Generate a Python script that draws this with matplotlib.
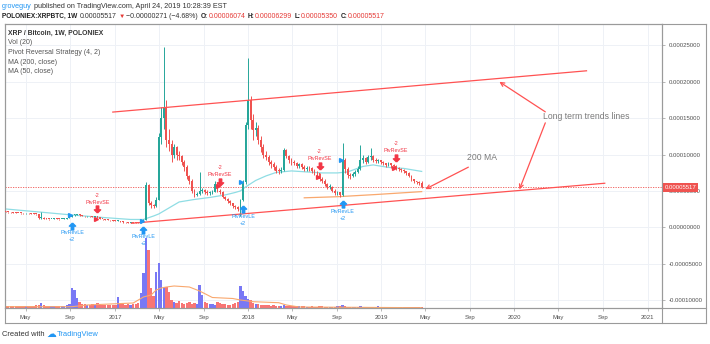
import numpy as np
import pandas as pd
import matplotlib
matplotlib.use('Agg')
import matplotlib.pyplot as plt
import matplotlib.dates as mdates
from matplotlib.path import Path
from matplotlib.transforms import offset_copy, blended_transform_factory
from matplotlib.lines import Line2D
from matplotlib.ticker import FuncFormatter

plt.rcParams['font.family'] = ['Liberation Sans', 'DejaVu Sans']

W, H = 710, 344

# weekly XRP/BTC bars, prices in satoshi (1e-8 BTC)
first_week = '2016-03-07'
first_open_sat = 2150
close_sat = [
    2100, 2080, 2050, 2000, 1980, 1950, 1930, 1900, 1950, 1900,
    1880, 1850, 1800, 1250, 1300, 1200, 1150, 1100, 1150, 1200,
    1150, 1100, 1150, 1200, 1250, 1400, 1650, 1700, 1750, 1650,
    1550, 1500, 1550, 1500, 1450, 1500, 1350, 1150, 1100, 1050,
    1000, 950, 900, 850, 880, 750, 700, 680, 650, 700,
    650, 620, 600, 800, 1000, 5800, 3300, 3000, 2900, 3800,
    12400, 15000, 16400, 12000, 11500, 10000, 11000, 10000, 9800, 9000,
    8300, 7000, 6400, 5000, 4500, 4600, 5000, 5100, 4900, 4700,
    4800, 4900, 6000, 5000, 4900, 4200, 3900, 3600, 3300, 2900,
    2800, 2500, 3700, 6200, 14000, 17500, 14800, 13400, 13600, 12000,
    11000, 10000, 9700, 9000, 8700, 8300, 7800, 7700, 7900, 10600,
    9800, 9200, 9000, 8800, 8400, 8700, 8300, 8000, 8200, 8100,
    7800, 7500, 7400, 6700, 6400, 6000, 5500, 5600, 5000, 4700,
    4800, 4400, 9250, 8000, 7200, 7000, 7300, 7600, 8000, 9300,
    9500, 9000, 9600, 9800, 9300, 9100, 9200, 9000, 8800, 8600,
    8800, 8500, 8400, 8200, 8000, 7900, 7700, 7500, 7100, 6600,
    6300, 6200, 6074, 5517]
high_sat = [
    2200, 2150, 2120, 2100, 2050, 2020, 2000, 1980, 2000, 1980,
    1950, 1920, 1880, 1820, 2150, 1350, 1250, 1200, 1200, 1250,
    1230, 1180, 1200, 1250, 1300, 1450, 1750, 1800, 1850, 1780,
    1700, 1600, 1600, 1580, 1550, 1550, 1550, 1380, 1200, 1150,
    1100, 1050, 1000, 950, 950, 900, 800, 750, 720, 760,
    730, 700, 680, 850, 1100, 6200, 6000, 3600, 3200, 4200,
    13000, 16500, 24800, 17500, 13500, 12000, 11500, 11200, 10500, 10000,
    9200, 8500, 7200, 6600, 5200, 4900, 7600, 5400, 5200, 5100,
    5000, 5100, 6400, 6200, 5300, 5000, 4300, 4000, 3700, 3400,
    3000, 2900, 3900, 6500, 14500, 23200, 18000, 15500, 14500, 14000,
    12500, 11500, 10500, 10000, 9300, 9000, 8500, 8100, 8300, 10900,
    10700, 10000, 9500, 9300, 9000, 8900, 8800, 8500, 8400, 8400,
    8300, 8000, 7800, 7500, 6900, 6600, 6100, 5900, 5700, 5200,
    5000, 4900, 11600, 9500, 8300, 7400, 7600, 7900, 8400, 11300,
    10000, 9700, 9900, 10900, 9900, 9500, 9400, 9300, 9100, 8900,
    9000, 8900, 8700, 8600, 8300, 8200, 8000, 7800, 7600, 7200,
    6700, 6400, 6300, 6299]
low_sat = [
    2050, 2020, 2000, 1950, 1930, 1900, 1880, 1850, 1870, 1860,
    1830, 1800, 1750, 1200, 1100, 1150, 1100, 1050, 1070, 1120,
    1100, 1050, 1070, 1130, 1180, 1230, 1380, 1600, 1650, 1600,
    1500, 1450, 1450, 1450, 1400, 1400, 1300, 1100, 1050, 1000,
    950, 900, 850, 800, 800, 700, 650, 620, 600, 620,
    600, 570, 550, 580, 780, 950, 3000, 2700, 2600, 2800,
    3700, 11500, 13500, 11000, 10500, 9000, 9500, 9300, 9200, 8600,
    7800, 6600, 6000, 4700, 4200, 4300, 4500, 4700, 4600, 4500,
    4500, 4600, 4800, 4800, 4600, 4000, 3700, 3400, 3100, 2700,
    2500, 2200, 1500, 3600, 6000, 13500, 13500, 12000, 12500, 11500,
    10300, 9500, 9200, 8600, 8200, 7900, 7400, 7300, 7500, 7700,
    9500, 8900, 8600, 8500, 8100, 8200, 8000, 7700, 7800, 7800,
    7500, 7200, 7100, 6400, 6100, 5700, 5200, 5300, 4800, 4500,
    4500, 4200, 4300, 7500, 6800, 6700, 6900, 7100, 7400, 7900,
    8800, 8700, 8800, 9300, 9000, 8800, 8900, 8700, 8500, 8300,
    8400, 8200, 8100, 7900, 7700, 7600, 7400, 7200, 6900, 6400,
    6100, 5900, 5800, 5350]
volume = [
    2, 2, 2, 2, 2, 2, 2, 2, 2, 2,
    2, 2, 3, 3, 5, 3, 2, 2, 2, 2,
    2, 2, 2, 2, 3, 4, 20, 18, 10, 6,
    4, 4, 3, 3, 4, 3, 5, 4, 3, 3,
    3, 3, 3, 3, 11, 4, 4, 3, 4, 3,
    4, 4, 5, 15, 35, 70, 58, 20, 12, 36,
    45, 28, 21, 21, 16, 8, 6, 5, 7, 5,
    4, 5, 6, 4, 5, 4, 23, 13, 6, 5,
    4, 4, 3, 6, 5, 4, 4, 3, 3, 4,
    5, 6, 22, 17, 12, 9, 8, 5, 4, 4,
    3, 3, 3, 3, 2, 3, 2, 2, 2, 3,
    2, 2, 2, 2, 2, 2, 2, 2, 1, 1,
    2, 1, 1, 2, 2, 1, 1, 1, 1, 1,
    2, 2, 3, 2, 1, 1, 1, 1, 1, 2,
    1, 1, 1, 1, 1, 1, 2, 1, 1, 1,
    1, 1, 1, 1, 1, 1, 1, 1, 1, 1,
    1, 1, 1, 1]

# moving averages as plotted (bar index -> value)
ma50_idx = [0, 26, 37, 49, 54, 58, 60, 62, 66, 68, 74, 80, 86, 90, 92, 94,
            98, 102, 106, 112, 118, 124, 130, 134, 140, 144, 150, 156, 163]
ma50_sat = [2517, 1692, 1376, 1073, 1073, 1554, 1830, 2242, 3067, 3480, 3824,
            4099, 4443, 4787, 4993, 5543, 6437, 7056, 7537, 7744, 7606, 7469,
            7469, 7606, 8363, 8569, 8225, 8088, 7675]
ma200_idx = [117, 130, 145, 163]
ma200_sat = [4050, 4200, 4500, 4900]
vol_ma_idx = [0, 26, 32, 50, 54, 57, 59, 61, 63, 66, 72, 76, 81, 89, 92, 97,
              107, 110, 115, 163]
vol_ma = [1.3, 1.3, 3, 5, 11, 13, 18, 20, 21, 22, 21, 17, 10.5, 9.5, 8, 6.3,
          5.3, 3, 1, 0.3]

# Pivot Reversal Strategy fills: bar index, fill price (sat)
long_bars = [26, 54, 93, 132]
long_fill_sat = [1690, 910, 6270, 9260]
short_bars = [36, 84, 123, 153]
short_fill_sat = [1100, 5680, 6880, 8120]

# drawing tools (time, price)
upper_trend = [('2016-12-26', 0.0001583), ('2020-07-17', 0.0002150)]
lower_trend = [('2017-02-15', 0.0000055), ('2020-09-05', 0.0000605)]

time_ticks = ['2016-05-01', '2016-09-01', '2017-01-01', '2017-05-01',
              '2017-09-01', '2018-01-01', '2018-05-01', '2018-09-01',
              '2019-01-01', '2019-05-01', '2019-09-01', '2020-01-01',
              '2020-05-01', '2020-09-01', '2021-01-01']
time_labels = ['May', 'Sep', '2017', 'May', 'Sep', '2018', 'May', 'Sep',
               '2019', 'May', 'Sep', '2020', 'May', 'Sep', '2021']
price_ticks = [-0.0001, -0.00005, 0, 0.00005, 0.0001, 0.00015, 0.0002, 0.00025]

UP, DOWN = '#26a69a', '#ef5350'
VOL_UP, VOL_DOWN = '#7878f5', '#f87575'
MA50_C, ORANGE = '#8fdde4', '#f9a86e'
TREND_C = '#ff5252'
SIG_BLUE, SIG_RED = '#2196f3', '#f23645'
FRAME = '#9a9a9a'
GRID = '#eef1f6'
P_LO, P_HI = -0.0001109, 0.0002793


def d(s):
    return mdates.date2num(pd.Timestamp(s))


closes = np.array(close_sat) * 1e-8
highs = np.array(high_sat) * 1e-8
lows = np.array(low_sat) * 1e-8
opens = np.concatenate([[first_open_sat * 1e-8], closes[:-1]])
dates = pd.date_range(first_week, periods=len(closes), freq='7D')
x = mdates.date2num(dates)
up = closes >= opens

fig = plt.figure(figsize=(W / 100, H / 100), dpi=100)
ax = fig.add_axes([5 / W, 36 / H, 657 / W, 284 / H])
vax = ax.twinx()
ax.set_zorder(vax.get_zorder() + 1)
ax.patch.set_visible(False)

ax.set_xlim(d('2016-03-05 10:00'), d('2021-02-09'))
ax.set_ylim(P_LO, P_HI)
vol_top = max(volume) * 284 / 70
vax.set_ylim(0, vol_top)

# grid sits on the volume axes so it stays behind the bars
for t in time_ticks:
    vax.axvline(d(t), color=GRID, lw=0.7, zorder=0)
for p in price_ticks:
    vax.axhline((p - P_LO) / (P_HI - P_LO) * vol_top, color=GRID, lw=0.7, zorder=0)

# volume and its average
vax.bar(x, volume, width=6.4, color=np.where(up, VOL_UP, VOL_DOWN), lw=0, zorder=1)
vax.plot(x[vol_ma_idx], vol_ma, color=ORANGE, lw=0.8, zorder=2)
vax.set_yticks([])

# candles
col = np.where(up, UP, DOWN)
ax.vlines(x, lows, highs, colors=col, lw=0.7, zorder=3)
body = np.maximum(np.abs(closes - opens), 1.1e-6)
ax.bar(x, body, bottom=np.minimum(opens, closes), width=5.0, color=col, lw=0, zorder=4)

ax.plot(x[ma50_idx], np.array(ma50_sat) * 1e-8, color=MA50_C, lw=0.9, zorder=2)
ax.plot(x[ma200_idx], np.array(ma200_sat) * 1e-8, color=ORANGE, lw=0.9, zorder=2)

# last price line and tag
last = closes[-1]
ax.axhline(last, color=DOWN, lw=0.6, ls=(0, (1.5, 1.5)), zorder=1)
tb = blended_transform_factory(ax.transAxes, ax.transData)
ax.text(1.004, last, f'{last:.8f}', transform=tb, ha='left', va='center',
        fontsize=4.3, color='white', clip_on=False, zorder=10,
        bbox=dict(boxstyle='square,pad=0.35', fc=DOWN, ec='none'))

# trend lines and notes
for (t0, p0), (t1, p1) in (upper_trend, lower_trend):
    ax.plot([d(t0), d(t1)], [p0, p1], color=TREND_C, lw=0.9, zorder=5)

arrow_kw = dict(arrowstyle='->', color=TREND_C, lw=0.9, shrinkA=0, shrinkB=0,
                mutation_scale=7)
ax.annotate('', xy=(d('2019-11-21'), 0.0001999), xytext=(d('2020-03-26'), 0.0001586),
            arrowprops=arrow_kw, zorder=6)
ax.annotate('', xy=(d('2020-01-15'), 0.0000520), xytext=(d('2020-03-26'), 0.0001435),
            arrowprops=arrow_kw, zorder=6)
ax.annotate('', xy=(d('2019-05-02'), 0.0000524), xytext=(d('2019-08-28'), 0.0000826),
            arrowprops=arrow_kw, zorder=6)
ax.text(d('2020-03-21'), 0.0001516, 'Long term trends lines', fontsize=6.2,
        color='#7a7a7a', ha='left', va='center', zorder=6)
ax.text(d('2019-08-25'), 0.0000953, '200 MA', fontsize=6.2,
        color='#7a7a7a', ha='left', va='center', zorder=6)

# strategy signals
up_arrow = Path([(0, 1), (-0.9, 0.1), (-0.35, 0.1), (-0.35, -1), (0.35, -1),
                 (0.35, 0.1), (0.9, 0.1), (0, 1)])
down_arrow = Path([(0, -1), (-0.9, -0.1), (-0.35, -0.1), (-0.35, 1), (0.35, 1),
                   (0.35, -0.1), (0.9, -0.1), (0, -1)])


def off(dy, dx=0):
    return offset_copy(ax.transData, fig=fig, x=dx, y=dy, units='points')


for i, fill in zip(long_bars, long_fill_sat):
    ax.plot(x[i], lows[i], marker=up_arrow, ms=5, color=SIG_BLUE, lw=0,
            transform=off(-6), zorder=7, clip_on=False)
    ax.text(x[i], lows[i], 'PivRevLE', transform=off(-11), fontsize=3.9,
            color=SIG_BLUE, ha='center', va='center', zorder=7)
    ax.text(x[i], lows[i], '+2', transform=off(-16), fontsize=3.9,
            color=SIG_BLUE, ha='center', va='center', zorder=7)
    ax.plot(x[i], fill * 1e-8, marker='>', ms=2.8, color=SIG_BLUE, lw=0,
            transform=off(0, -1.2), zorder=8)
for i, fill in zip(short_bars, short_fill_sat):
    ax.plot(x[i], highs[i], marker=down_arrow, ms=5, color=SIG_RED, lw=0,
            transform=off(5), zorder=7)
    ax.text(x[i], highs[i], 'PivRevSE', transform=off(10), fontsize=3.9,
            color=SIG_RED, ha='center', va='center', zorder=7)
    ax.text(x[i], highs[i], '-2', transform=off(15), fontsize=3.9,
            color=SIG_RED, ha='center', va='center', zorder=7)
    ax.plot(x[i], fill * 1e-8, marker='>', ms=2.8, color=SIG_RED, lw=0,
            transform=off(0, -1.2), zorder=8)

# axes styling
ax.set_xticks([d(t) for t in time_ticks])
ax.set_xticklabels(time_labels)
ax.yaxis.tick_right()
ax.set_yticks(price_ticks)
ax.yaxis.set_major_formatter(FuncFormatter(lambda v, _: f'{v:.8f}'))
ax.tick_params(axis='both', labelsize=4.3, length=2.5, width=0.5, pad=2.5,
               colors=FRAME, labelcolor='#4f4f4f')
vax.tick_params(axis='both', length=0)
for a in (ax, vax):
    for s in a.spines.values():
        s.set_color(FRAME)
        s.set_linewidth(0.8)


# outer frame of the price/time scales
def fx(px):
    return px / W


def fy(py):
    return 1 - py / H


for xs, ys in (([5, 706], [323, 323]), ([706, 706], [24, 323]),
               ([5, 5], [308, 323]), ([662, 706], [24, 24]),
               ([662, 706], [308, 308]), ([662, 662], [308, 323])):
    fig.add_artist(Line2D([fx(v) for v in xs], [fy(v) for v in ys],
                          color=FRAME, lw=0.8))


# header and legend text
renderer = fig.canvas.get_renderer()


def text_run(x_px, y_px, pieces):
    xx = x_px
    for s, color, weight, size, gap in pieces:
        t = fig.text(fx(xx), fy(y_px), s, color=color, fontsize=size,
                     fontweight=weight, ha='left', va='center')
        xx += t.get_window_extent(renderer).width + gap
    return xx


text_run(2, 6.5, [('groveguy', '#2196f3', 'normal', 5.2, 1.8),
                  ('published on TradingView.com, April 24, 2019 10:28:39 EST',
                   '#333333', 'normal', 5.2, 0)])
red = '#e53935'
text_run(2, 16, [('POLONIEX:XRPBTC, 1W', '#222222', 'bold', 4.7, 3),
                 ('0.00005517', '#333333', 'normal', 5.0, 1.5),
                 ('\u25bc', red, 'normal', 4.6, 1.5),
                 ('\u22120.00000271 (\u22124.68%)', '#333333', 'normal', 5.0, 3),
                 ('O:', '#222222', 'bold', 4.7, 0.3), ('0.00006074', red, 'normal', 5.0, 2.5),
                 ('H:', '#222222', 'bold', 4.7, 0.3), ('0.00006299', red, 'normal', 5.0, 2.5),
                 ('L:', '#222222', 'bold', 4.7, 0.3), ('0.00005350', red, 'normal', 5.0, 2.5),
                 ('C:', '#222222', 'bold', 4.7, 0.3), ('0.00005517', red, 'normal', 5.0, 0)])

fig.text(fx(8), fy(33.5), 'XRP / Bitcoin, 1W, POLONIEX', fontsize=4.9,
         color='#333333', fontweight='bold', va='center')
for k, s in enumerate(['Vol (20)', 'Pivot Reversal Strategy (4, 2)',
                       'MA (200, close)', 'MA (50, close)']):
    fig.text(fx(8), fy(43 + 9.5 * k), s, fontsize=5.0, color='#555555', va='center')

# footer: "Created with" + cloud logo + "TradingView"
end = text_run(2, 334, [('Created with', '#333333', 'normal', 5.4, 0)])
logo = fig.text(fx(end + 2), fy(333.5), '\u2601', fontsize=7.0, color='#2196f3',
                ha='left', va='center')
end += 2 + logo.get_window_extent(renderer).width + 1
text_run(end, 334, [('TradingView', '#2196f3', 'normal', 5.4, 0)])

fig.savefig('out.png', dpi=100)
